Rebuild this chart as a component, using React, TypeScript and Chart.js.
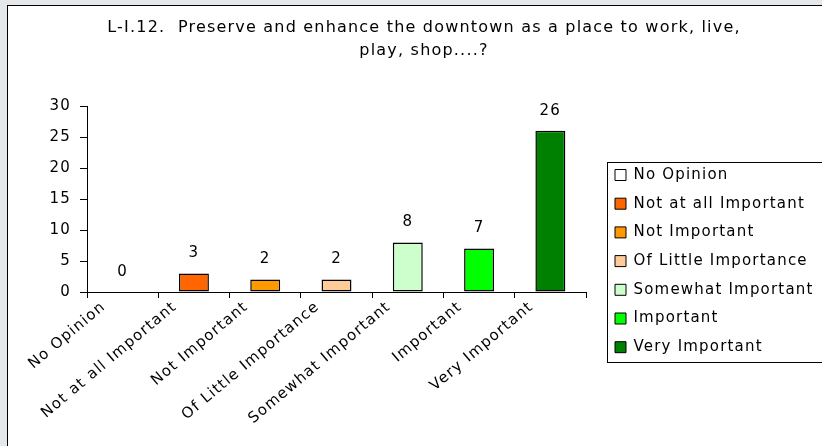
import React, { useEffect, useRef } from 'react';
import { Chart, registerables } from 'chart.js';

Chart.register(...registerables);

const titleLines = [
  'L-I.12.  Preserve and enhance the downtown as a place to work, live,',
  'play, shop....?',
];
const categories = [
  'No Opinion',
  'Not at all Important',
  'Not Important',
  'Of Little Importance',
  'Somewhat Important',
  'Important',
  'Very Important',
];
const counts = [0, 3, 2, 2, 8, 7, 26];
const barColors = ['#FFFFFF', '#FF6600', '#FF9900', '#FFCC99', '#CCFFCC', '#00FF00', '#008000'];
const yTicks = [0, 5, 10, 15, 20, 25, 30];

const FONT = "'DejaVu Sans', sans-serif";
const FONT_SIZE = 15;
const TITLE_SIZE = 16;
const LETTER_SPACING = '1.2px';

const CANVAS_W = 832;
const CANVAS_H = 440;
const LEG_X = 593.3;
const LEG_Y = 147.8;
const LEG_BORDER = { x: 599.5, y: 156.5, w: 300, h: 200 };

const spacingPlugin = {
  id: 'letterSpacing',
  beforeLayout(chart: any) {
    chart.ctx.letterSpacing = LETTER_SPACING;
  },
  beforeDraw(chart: any) {
    chart.ctx.letterSpacing = LETTER_SPACING;
  },
};

const legendPlace = {
  id: 'legendPlace',
  afterLayout(chart: any) {
    const lg = chart.legend;
    if (!lg) return;
    lg.update(300, 400, { left: 0, top: 0, right: 0, bottom: 0 });
    lg.left = LEG_X;
    lg.top = LEG_Y;
    lg.right = LEG_X + 300;
    lg.bottom = LEG_Y + 260;
    lg.width = 300;
    lg.height = 260;
  },
  afterDraw(chart: any) {
    const ctx = chart.ctx;
    ctx.save();
    ctx.strokeStyle = '#000';
    ctx.lineWidth = 1;
    ctx.strokeRect(LEG_BORDER.x, LEG_BORDER.y, LEG_BORDER.w, LEG_BORDER.h);
    ctx.restore();
  },
};

const valueLabels = {
  id: 'valueLabels',
  afterDatasetsDraw(chart: any) {
    const ctx = chart.ctx;
    const meta = chart.getDatasetMeta(0);
    ctx.save();
    ctx.font = `${FONT_SIZE}px ${FONT}`;
    ctx.fillStyle = '#000';
    ctx.textAlign = 'center';
    ctx.textBaseline = 'middle';
    meta.data.forEach((el: any, i: number) => {
      ctx.fillText(String(counts[i]), el.x, el.y - 20);
    });
    ctx.restore();
  },
};

export default function App() {
  const ref = useRef<HTMLCanvasElement | null>(null);

  useEffect(() => {
    if (!ref.current) return;
    const chart = new Chart(ref.current, {
      type: 'bar',
      data: {
        labels: categories,
        datasets: [
          {
            label: 'Responses',
            data: counts,
            backgroundColor: barColors,
            borderColor: '#000',
            borderWidth: 1.5,
            borderSkipped: false,
            barPercentage: 0.42,
            categoryPercentage: 1,
          },
        ],
      },
      options: {
        responsive: false,
        animation: false,
        devicePixelRatio: 1,
        layout: { padding: 0 },
        plugins: {
          title: {
            display: true,
            text: titleLines,
            color: '#000',
            font: { family: FONT, size: TITLE_SIZE, weight: 'normal', lineHeight: 1.45 },
            padding: { top: 10, bottom: 43.6 },
          },
          legend: {
            display: true,
            position: 'chartArea',
            align: 'start',
            labels: {
              boxWidth: 11,
              boxHeight: 11,
              padding: 13.7,
              color: '#000',
              font: { family: FONT, size: FONT_SIZE },
              generateLabels: () =>
                categories.map((c, i) => ({
                  text: c,
                  fillStyle: barColors[i],
                  strokeStyle: '#000',
                  lineWidth: 1,
                  hidden: false,
                  index: i,
                  datasetIndex: 0,
                  fontColor: '#000',
                })),
            },
          },
          tooltip: { enabled: false },
        },
        scales: {
          x: {
            type: 'category',
            grid: { display: true, drawOnChartArea: false, drawTicks: true, tickLength: 6, color: '#000', offset: true },
            border: { display: true, color: '#000', width: 1 },
            ticks: {
              color: '#000',
              font: { family: FONT, size: FONT_SIZE },
              minRotation: 40,
              maxRotation: 40,
              autoSkip: false,
              padding: 0,
              labelOffset: -19,
            },
            afterFit(s: any) {
              s.height = CANVAS_H - 286;
            },
          },
          y: {
            type: 'linear',
            position: 'left',
            min: yTicks[0],
            max: yTicks[yTicks.length - 1],
            ticks: {
              stepSize: yTicks[1] - yTicks[0],
              color: '#000',
              font: { family: FONT, size: FONT_SIZE },
              padding: 9,
            },
            grid: { display: true, drawOnChartArea: false, drawTicks: true, tickLength: 7, color: '#000' },
            border: { display: true, color: '#000', width: 1 },
            afterFit(s: any) {
              s.width = 79;
            },
          },
          y2: {
            type: 'linear',
            position: 'right',
            display: true,
            grid: { display: false },
            border: { display: false },
            ticks: { display: false },
            afterFit(s: any) {
              s.width = CANVAS_W - 578;
            },
          },
        },
      } as any,
      plugins: [spacingPlugin, legendPlace, valueLabels],
    });
    return () => chart.destroy();
  }, []);

  return (
    <div
      style={{
        position: 'fixed',
        left: 0,
        top: 0,
        width: 822,
        height: 446,
        overflow: 'hidden',
        background: '#e4e8eb',
      }}
    >
      <div
        style={{
          position: 'absolute',
          left: 7,
          top: 5,
          width: 900,
          height: 500,
          background: '#fff',
          borderLeft: '1px solid #000',
          borderTop: '1px solid #000',
        }}
      />
      <canvas
        ref={ref}
        width={CANVAS_W}
        height={CANVAS_H}
        style={{ position: 'absolute', left: 8, top: 6, display: 'block' }}
      />
    </div>
  );
}
